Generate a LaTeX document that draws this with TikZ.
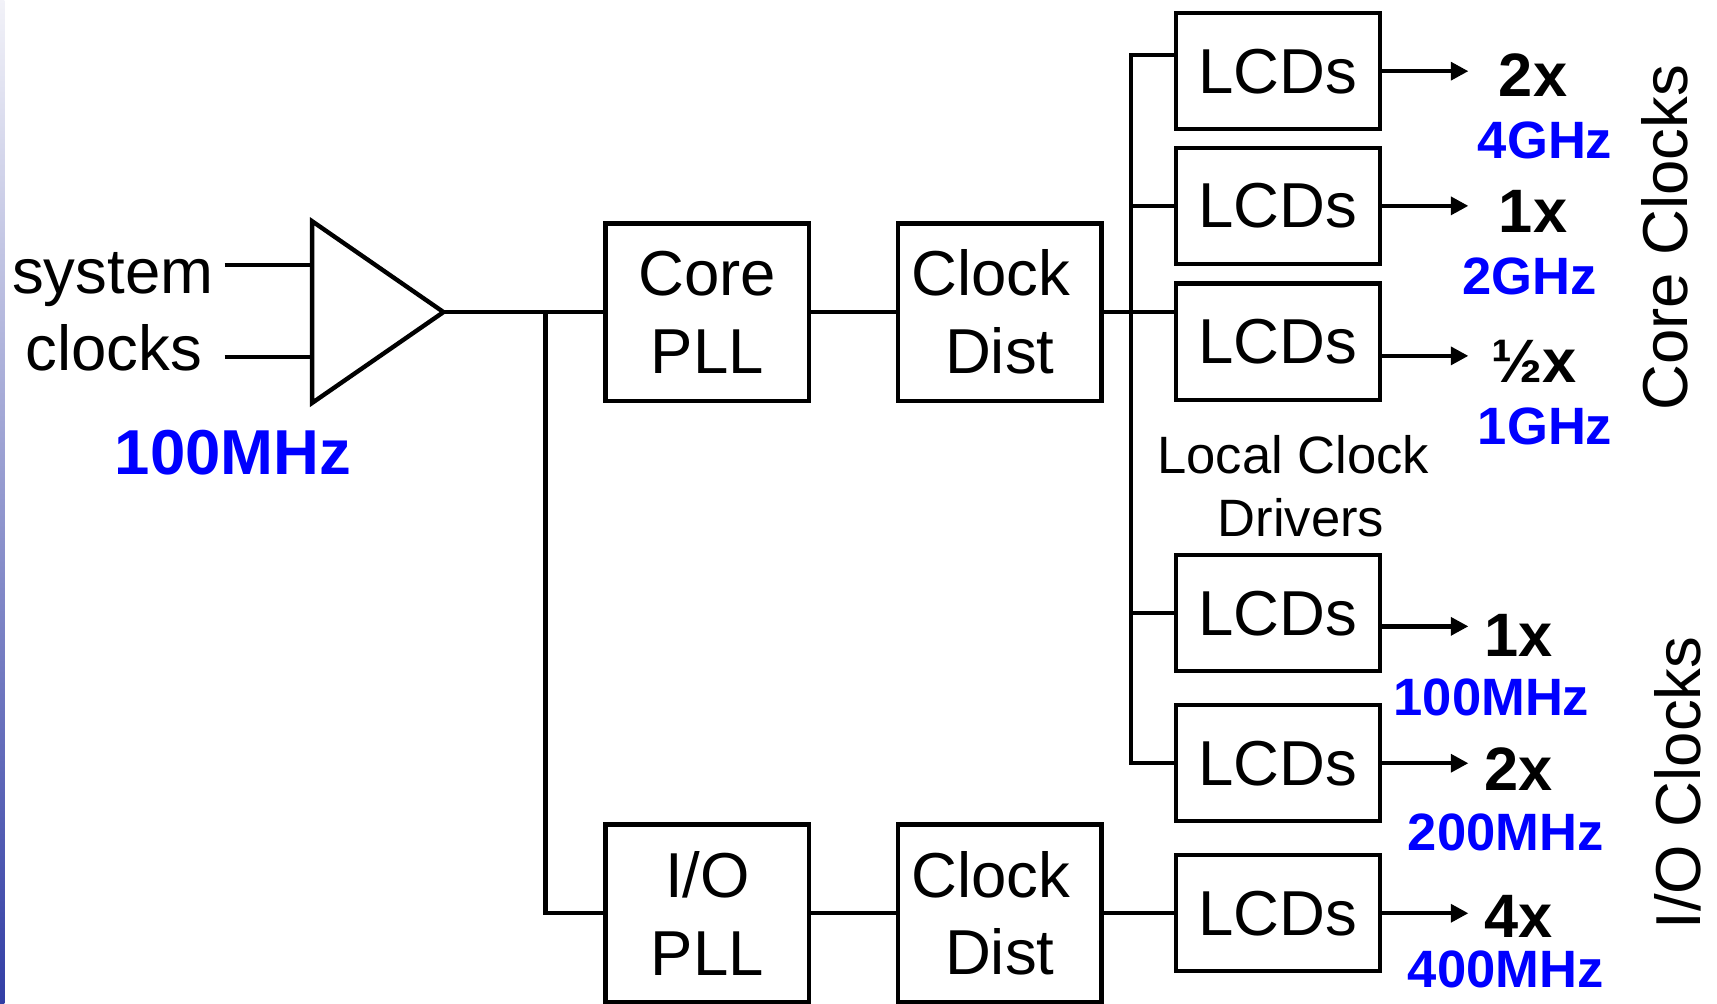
\documentclass[tikz,border=0pt]{standalone}
\usepackage{fontspec}
\setmainfont{Liberation Sans}
\usetikzlibrary{arrows.meta}

\begin{document}
\begin{tikzpicture}[x=.5pt,y=-.5pt,
  wire/.style={draw=black,line width=2pt},
  arr/.style={wire,-{Triangle[length=8pt,width=8pt]}},
  blk/.style={draw=black,line width=2pt,minimum width=93pt,minimum height=81pt,align=center,inner sep=0pt,font=\fontsize{29}{35.5}\selectfont},
  lcd/.style={draw=black,line width=2pt,minimum width=93pt,minimum height=53pt,inner sep=0pt,font=\fontsize{29}{35}\selectfont},
  txt/.style={inner sep=0pt,font=\fontsize{29}{35}\selectfont},
  small/.style={inner sep=0pt,font=\fontsize{24}{29}\selectfont},
  mult/.style={inner sep=0pt,font=\bfseries\fontsize{28}{34}\selectfont},
  freq/.style={inner sep=0pt,text=blue,font=\bfseries\fontsize{24}{29}\selectfont}]
\path[use as bounding box] (0,0) rectangle (1568,916);
\clip (0,0) rectangle (1568,916);
\shade[top color={rgb,255:red,242;green,242;blue,248},middle color={rgb,255:red,175;green,175;blue,210},bottom color={rgb,255:red,50;green,62;blue,165}] (0,0) rectangle (4,916);

% input buffer
\node[txt,anchor=base] (sysA) at (103,268) {system};
\node[txt,anchor=base] (sysB) at (104,338) {clocks};
\node[freq,font=\bfseries\fontsize{29}{35}\selectfont] (refclk) at (213,413) {100MHz};
\coordinate (bufA) at (285,242);
\coordinate (bufB) at (285,326);
\coordinate (buf) at (405,285);
\draw[wire,line join=miter] (285,202) -- (buf) -- (285,368) -- cycle;
\draw[wire] ([xshift=5pt]sysA.east |- bufA) -- (bufA);
\draw[wire] ([xshift=5pt]sysA.east |- bufB) -- (bufB);

% PLLs and distribution
\node[blk] (corepll) at (646,285) {Core\\PLL};
\node[blk] (coredist) at (913,285) {Clock\kern8pt\\Dist};
\node[blk] (iopll) at (646,834) {I/O\\PLL};
\node[blk] (iodist) at (913,834) {Clock\kern8pt\\Dist};
\coordinate (split) at (498,285);
\draw[wire] (buf) -- (corepll.west);
\draw[wire] (split) |- (iopll.west);
\draw[wire] (corepll) -- (coredist);
\draw[wire] (iopll) -- (iodist);

% local clock drivers
\node[lcd] (lcd1) at (1167,65) {LCDs};
\node[lcd] (lcd2) at (1167,188) {LCDs};
\node[lcd] (lcd3) at (1167,312) {LCDs};
\node[lcd] (lcd4) at (1167,560) {LCDs};
\node[lcd] (lcd5) at (1167,697) {LCDs};
\node[lcd] (lcd6) at (1167,834) {LCDs};
\node[small,anchor=base] (lcdname) at (1181,432) {Local Clock};
\node[small,anchor=base] (lcdname2) at (1188,490) {Drivers};
\coordinate (bus) at (1033,0);
\draw[wire] (coredist.east) -- (coredist.east -| lcd3.west);
\draw[wire] ([yshift=7.5pt]lcd1.west) -| (bus |- lcd5.west) -- (lcd5.west);
\draw[wire] (bus |- lcd2.west) -- (lcd2.west);
\draw[wire] (bus |- lcd4.west) -- (lcd4.west);
\draw[wire] (iodist) -- (lcd6);

% outputs
\coordinate (tip) at (1341,0);
\draw[arr] (lcd1.east) -- (lcd1.east -| tip);
\draw[arr] (lcd2.east) -- (lcd2.east -| tip);
\draw[arr] ([yshift=-6.5pt]lcd3.east) -- ([yshift=-6.5pt]lcd3.east -| tip);
\draw[arr] ([yshift=-6pt]lcd4.east) -- ([yshift=-6pt]lcd4.east -| tip);
\draw[arr] (lcd5.east) -- (lcd5.east -| tip);
\draw[arr] (lcd6.east) -- (lcd6.east -| tip);
\node[mult] (m1) at (1400,69) {2x};
\node[freq] (f1) at (1411,128) {4GHz};
\node[mult] (m2) at (1400,193) {1x};
\node[freq] (f2) at (1397,252) {2GHz};
\node[mult] (m3) at (1401,330) {½x};
\node[freq] (f3) at (1411,389) {1GHz};
\node[mult] (m4) at (1387,580) {1x};
\node[freq] (f4) at (1362,637) {100MHz};
\node[mult] (m5) at (1387,702) {2x};
\node[freq] (f5) at (1375,760) {200MHz};
\node[mult] (m6) at (1387,837) {4x};
\node[freq] (f6) at (1375,885) {400MHz};
\node[txt,rotate=90] (coreclk) at (1520,217) {Core Clocks};
\node[txt,rotate=90] (ioclk) at (1532,715) {I/O Clocks};
\end{tikzpicture}
\end{document}
